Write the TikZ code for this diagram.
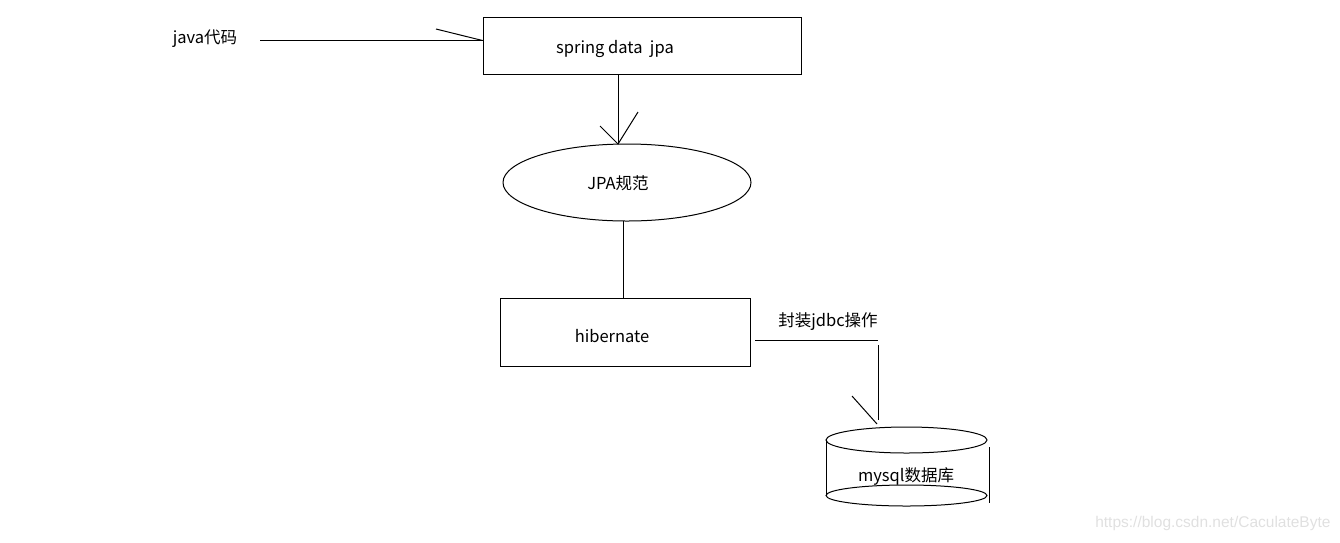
\documentclass[tikz,border=0pt]{standalone}
\usepackage{fontspec}
\setmainfont{Noto Sans CJK SC}
\newfontfamily\wmfont{Liberation Sans}
\usetikzlibrary{shapes.geometric}
\begin{document}
\begin{tikzpicture}[x=1pt,y=-1pt,line width=1pt,
  box/.style={draw,rectangle,inner sep=0pt},
  oval/.style={draw,ellipse,inner sep=0pt},
  lbl/.style={font=\fontsize{16.5}{19}\selectfont,inner sep=0pt},
  wire/.style={line width=1pt}]
\useasboundingbox (0,0) rectangle (1340,542);
% boxes
\node[box,minimum width=318pt,minimum height=57pt] (spring) at (642,45.5) {};
\node[oval,minimum width=248pt,minimum height=77pt] (jpa) at (627,182.5) {};
\node[box,minimum width=250pt,minimum height=68pt] (hib) at (625,332) {};
% labels
\node[lbl] (javat) at (205,39) {java代码};
\node[lbl] (springt) at (615,49) {spring data\ \ jpa};
\node[lbl] (jpat) at (618,183) {JPA规范};
\node[lbl] (hibt) at (612,336) {hibernate};
\node[lbl] (jdbct) at (828,322) {封装jdbc操作};
% database cylinder
\coordinate (dbtop) at (906.5,440);
\coordinate (dbbot) at (906.5,495.5);
\draw (dbtop) ellipse [x radius=80.5pt, y radius=13pt];
\draw (dbbot) ellipse [x radius=80.5pt, y radius=10.5pt];
\draw (826,440) -- (826,496);
\draw (989,447) -- (989,503);
\node[lbl] (dbt) at (906,476) {mysql数据库};
% connectors
\coordinate (j1) at (260,40.5);
\draw[wire] (j1) -- (spring.west |- j1);
\draw[wire] (436,29) -- (spring.west |- j1);
\coordinate (s1) at (618,74);
\coordinate (s2) at (618,144);
\draw[wire] (s1) -- (s2);
\draw[wire] (600,126) -- (s2) -- (638,112);
\draw[wire] (623,221) -- (623,299);
\coordinate (h1) at (755,340.5);
\coordinate (h2) at (878,340.5);
\draw[wire] (h1) -- (h2);
\coordinate (d1) at (878,345);
\coordinate (d2) at (878,420);
\draw[wire] (d1) -- (d2);
\draw[wire] (852,396) -- (877,424);
% watermark
\node[font=\wmfont\fontsize{15.5}{18}\selectfont,text=black!12,inner sep=0pt,anchor=east] (wm) at (1331,523) {https://blog.csdn.net/CaculateByte};
\end{tikzpicture}
\end{document}
